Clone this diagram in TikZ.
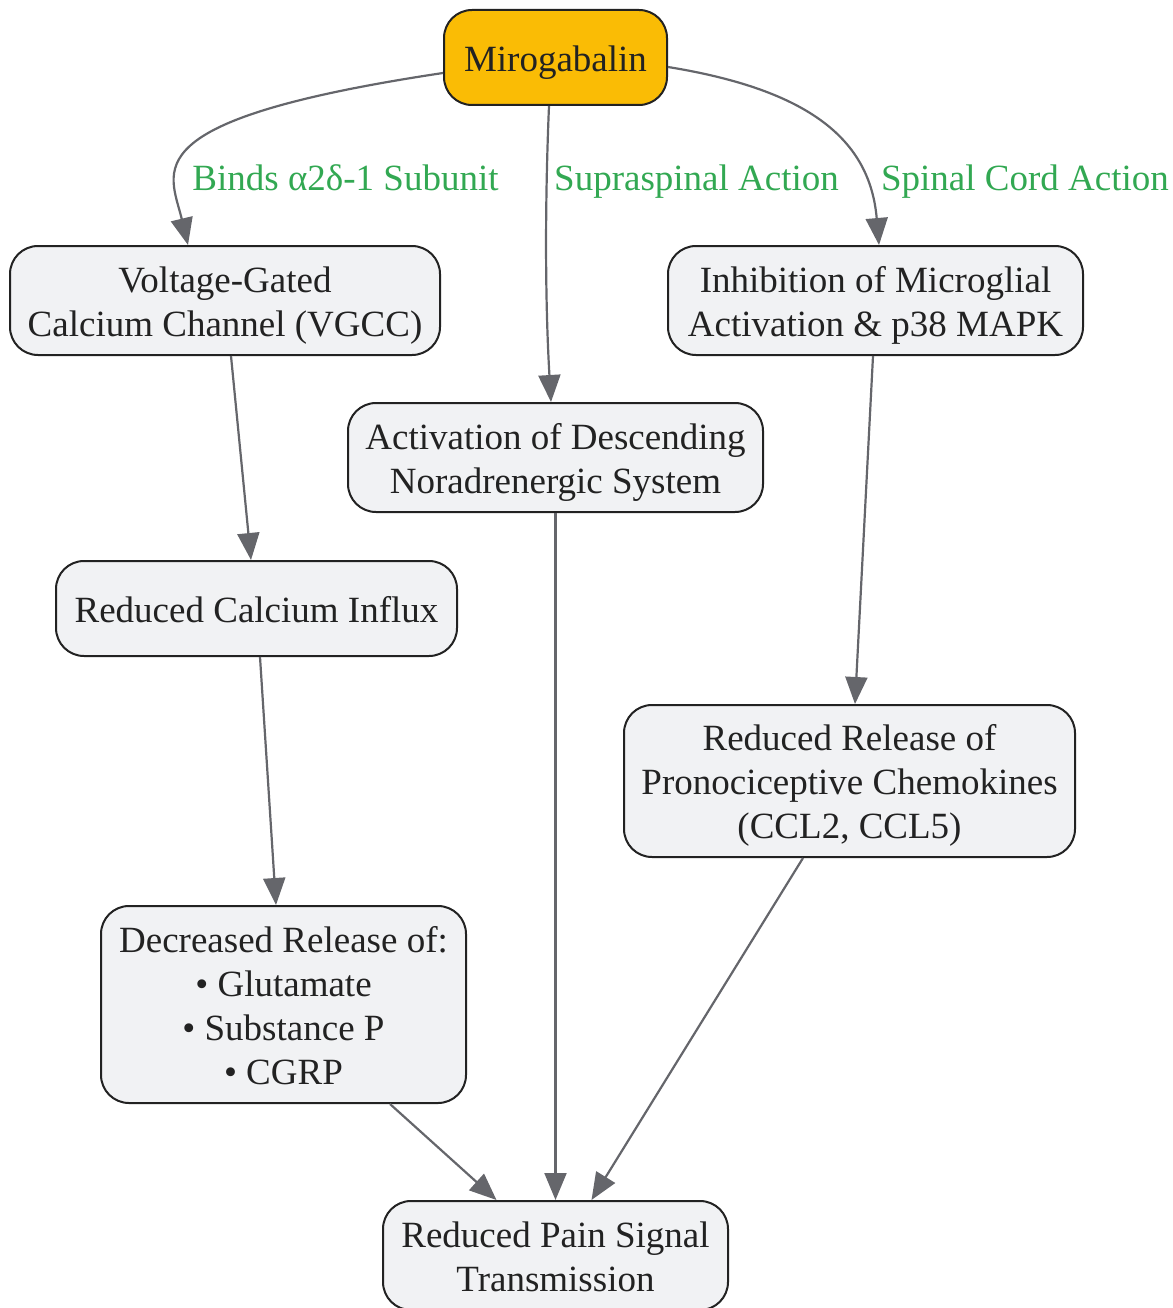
\documentclass[tikz,border=0pt]{standalone}
\usepackage{fontspec}
\setmainfont{Liberation Serif}
\usetikzlibrary{arrows.meta}
\definecolor{nodefill}{HTML}{F1F2F4}
\definecolor{nodeline}{HTML}{222222}
\definecolor{mirofill}{HTML}{FABC05}
\definecolor{edgecol}{HTML}{65666B}
\definecolor{labgreen}{HTML}{32A852}
\definecolor{txt}{HTML}{222222}
\newcommand{\boxtext}[1]{\raisebox{-5pt}[\height][\depth]{\begin{tabular}{@{}c@{}}#1\end{tabular}}}
\begin{document}
\begin{tikzpicture}[x=1pt,y=-1pt,
  box/.style={draw=nodeline,line width=2pt,fill=nodefill,rounded corners=28pt,
    align=center,text=txt,inner sep=0pt,
    font=\fontsize{37}{44}\selectfont},
  conn/.style={draw=edgecol,line width=2.2pt,-{Triangle[length=27pt,width=22pt]}},
  elabel/.style={text=labgreen,inner sep=0pt,anchor=base,font=\fontsize{37}{44}\selectfont}]
\useasboundingbox (0,0) rectangle (1172,1308);
\node[box,fill=mirofill,minimum width=223pt,minimum height=95pt] (mir) at (555.5,57.5) {\boxtext{Mirogabalin}};
\node[box,minimum width=430pt,minimum height=109pt] (vgcc) at (225,300.5) {\boxtext{Voltage-Gated\\Calcium Channel (VGCC)}};
\node[box,minimum width=415pt,minimum height=109pt] (inh) at (875.5,300.5) {\boxtext{Inhibition of Microglial\\Activation \& p38 MAPK}};
\node[box,minimum width=415pt,minimum height=109pt] (act) at (555.5,457.5) {\boxtext{Activation of Descending\\Noradrenergic System}};
\node[box,minimum width=401pt,minimum height=95pt] (rci) at (256.5,608.5) {\boxtext{Reduced Calcium Influx}};
\node[box,minimum width=451pt,minimum height=152pt] (rel) at (849.5,781) {\boxtext{Reduced Release of\\Pronociceptive Chemokines\\(CCL2, CCL5)}};
\node[box,minimum width=365pt,minimum height=197pt] (dec) at (283.5,1004.5) {\boxtext{Decreased Release of:\\• Glutamate\\• Substance P\\• CGRP}};
\node[box,minimum width=345pt,minimum height=109pt] (pain) at (555.5,1255.5) {\boxtext{Reduced Pain Signal\\Transmission}};

\node[elabel] (l1) at (345.5,190) {Binds α2δ-1 Subunit};
\node[elabel] (l2) at (696.5,190) {Supraspinal Action};
\node[elabel] (l3) at (1025,190) {Spinal Cord Action};

\draw[conn] ([yshift=-15.5pt]mir.west) .. controls (130,120) and (170,170) .. ([xshift=-37pt]vgcc.north);
\draw[conn] ([xshift=-6.5pt]mir.south) .. controls (545,200) and (545,300) .. ([xshift=-4.5pt]act.north);
\draw[conn] ([yshift=-9.5pt]mir.east) .. controls (810,90) and (870,140) .. ([xshift=3.5pt]inh.north);
\draw[conn] ([xshift=6pt]vgcc.south) -- ([xshift=-5.5pt]rci.north);
\draw[conn] ([xshift=3.5pt]rci.south) -- ([xshift=-7.5pt]dec.north);
\draw[conn] ([xshift=-2.5pt]inh.south) -- ([xshift=5.5pt]rel.north);
\draw[conn] (act.south) -- (pain.north);
\draw[conn] ([xshift=106.5pt]dec.south) -- ([xshift=-59pt]pain.north);
\draw[conn] ([xshift=-46.5pt]rel.south) -- ([xshift=36pt]pain.north);
\end{tikzpicture}
\end{document}
